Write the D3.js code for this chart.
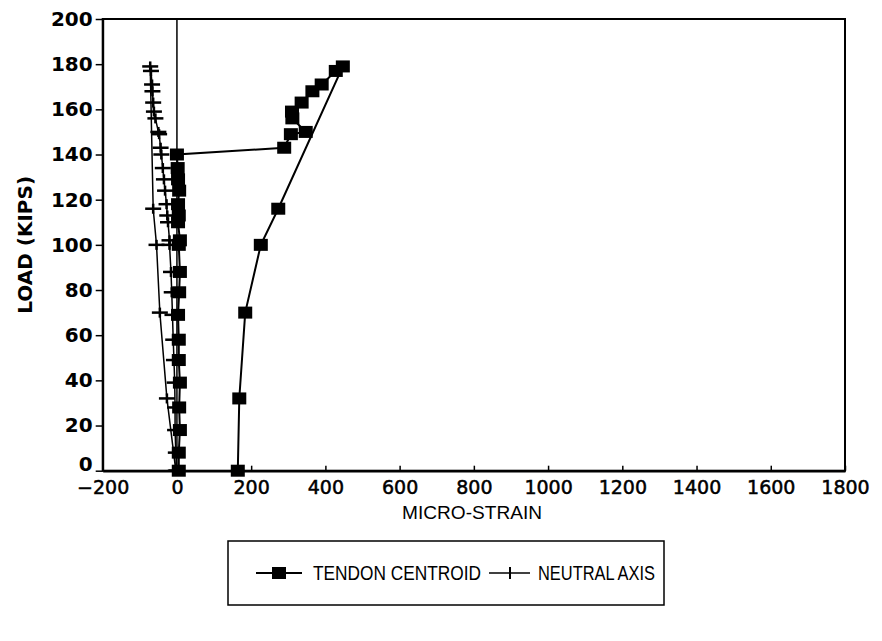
<!DOCTYPE html>
<html>
<head>
<meta charset="utf-8">
<script src="https://cdnjs.cloudflare.com/ajax/libs/d3/7.8.5/d3.min.js"></script>
<style>
  body { margin: 0; background: #fff; }
  svg { display: block; }
  .tick text { fill: #000; }
</style>
</head>
<body>
<div id="chart"></div>
<script>
// x ticks / y ticks
var xTicks = [-200, 0, 200, 400, 600, 800, 1000, 1200, 1400, 1600, 1800];
var yTicks = [0, 20, 40, 60, 80, 100, 120, 140, 160, 180, 200];

// TENDON CENTROID: load (kips) and micro-strain, loading then unloading
var tendonLoad = [0, 8, 18, 28, 39, 49, 58, 69, 79, 88, 100, 102, 110, 113, 118, 124, 129, 134, 140,
                  143, 149, 150, 156, 159, 163, 168, 171, 177, 179,
                  116, 100, 70, 32, 0];
var tendonStrain = [5, 5, 8, 6, 8, 5, 5, 3, 6, 8, 5, 8, 3, 5, 3, 6, 3, 2, 0,
                    289, 307, 347, 311, 310, 336, 365, 390, 428, 447,
                    273, 226, 184, 168, 164];

// NEUTRAL AXIS
var neutralLoad = [0, 8, 18, 28, 39, 49, 58, 69, 79, 88, 100, 102, 110, 113, 118, 124, 129, 134, 140,
                   143, 149, 150, 156, 159, 163, 168, 171, 177, 179,
                   116, 100, 70, 32, 0];
var neutralStrain = [0, -3, -5, -5, -6, -8, -10, -12, -14, -16, -20, -20, -24, -26, -28, -32, -35, -38, -42,
                     -44, -48, -50, -58, -62, -64, -66, -67, -70, -72,
                     -64, -55, -46, -27, -3];

var svgWidth = 882;
var svgHeight = 641;

var svg = d3.select("#chart")
    .append("svg")
    .attr("width", svgWidth)
    .attr("height", svgHeight);

var xScale = d3.scaleLinear().domain([-200, 1800]).range([102.7, 845]);
var yScale = d3.scaleLinear().domain([0, 200]).range([470.7, 19]);

var tendon = tendonLoad.map((l, i) => ({load: l, strain: tendonStrain[i]}));
var neutral = neutralLoad.map((l, i) => ({load: l, strain: neutralStrain[i]}));

var narrow = "'Liberation Sans', Arial, sans-serif";

// frame
svg.append("rect")
    .attr("x", xScale(-200))
    .attr("y", yScale(200))
    .attr("width", xScale(1800) - xScale(-200))
    .attr("height", yScale(0) - yScale(200))
    .attr("fill", "none")
    .attr("stroke", "#000")
    .attr("stroke-width", 2);

// zero line
svg.append("line")
    .attr("x1", xScale(0)).attr("x2", xScale(0))
    .attr("y1", yScale(0)).attr("y2", yScale(200))
    .attr("stroke", "#000")
    .attr("stroke-width", 1.5);

// axes
var xAxis = svg.append("g")
    .attr("transform", `translate(0, ${yScale(0)})`)
    .call(d3.axisBottom(xScale).tickValues(xTicks).tickSizeInner(-5).tickSizeOuter(0).tickPadding(10));
xAxis.select(".domain").attr("stroke-width", 2.5);
xAxis.selectAll("line").attr("stroke-width", 1.5);
xAxis.selectAll("text")
    .attr("font-family", "DejaVu Sans, sans-serif")
    .attr("font-size", "19px")
    .attr("stroke", "#000")
    .attr("stroke-width", 0.5)
    .text(d => d < 0 ? "\u2212" + Math.abs(d) : d);

var yAxis = svg.append("g")
    .attr("transform", `translate(${xScale(-200)}, 0)`)
    .call(d3.axisLeft(yScale).tickValues(yTicks).tickSizeInner(7).tickSizeOuter(0).tickPadding(3));
yAxis.select(".domain").attr("stroke-width", 2);
yAxis.selectAll("line").attr("stroke-width", 1.5);
yAxis.selectAll("text")
    .attr("font-family", "DejaVu Sans, sans-serif")
    .attr("font-weight", "bold")
    .attr("font-size", "20px")
    .attr("dy", d => d === 0 ? "0em" : "0.32em");

// axis labels
svg.append("text")
    .attr("transform", `translate(25, ${yScale(100)}) rotate(-90)`)
    .attr("text-anchor", "middle")
    .attr("dy", "0.35em")
    .attr("font-family", "DejaVu Sans, sans-serif")
    .attr("font-weight", "bold")
    .attr("font-size", "20px")
    .text("LOAD (KIPS)");

svg.append("text")
    .attr("x", 472)
    .attr("y", 519)
    .attr("text-anchor", "middle")
    .attr("font-family", narrow)
    .attr("font-size", "19px")
    .attr("textLength", 140)
    .attr("lengthAdjust", "spacingAndGlyphs")
    .text("MICRO-STRAIN");

var line = d3.line().x(d => xScale(d.strain)).y(d => yScale(d.load));

svg.append("path")
    .datum(neutral)
    .attr("d", line)
    .attr("fill", "none")
    .attr("stroke", "#000")
    .attr("stroke-width", 1.5);

svg.append("path")
    .datum(tendon)
    .attr("d", line)
    .attr("fill", "none")
    .attr("stroke", "#000")
    .attr("stroke-width", 2);

// neutral axis markers (+)
var plus = svg.append("g").selectAll("g")
    .data(neutral)
    .enter()
    .append("g")
    .attr("transform", d => `translate(${xScale(d.strain)}, ${yScale(d.load)})`);
plus.append("line").attr("x1", -8).attr("x2", 8).attr("stroke", "#000").attr("stroke-width", 2.5);
plus.append("line").attr("y1", -5).attr("y2", 5).attr("stroke", "#000").attr("stroke-width", 2.5);

// tendon markers (squares)
svg.append("g").selectAll("rect")
    .data(tendon)
    .enter()
    .append("rect")
    .attr("x", d => xScale(d.strain) - 7)
    .attr("y", d => yScale(d.load) - 6)
    .attr("width", 14)
    .attr("height", 12)
    .attr("fill", "#000");

// legend
var legend = svg.append("g");
legend.append("rect")
    .attr("x", 228).attr("y", 541)
    .attr("width", 436).attr("height", 64)
    .attr("fill", "none")
    .attr("stroke", "#000")
    .attr("stroke-width", 1.5);
legend.append("line").attr("x1", 256).attr("x2", 302).attr("y1", 573).attr("y2", 573)
    .attr("stroke", "#000").attr("stroke-width", 2);
legend.append("rect").attr("x", 272).attr("y", 567).attr("width", 14).attr("height", 12).attr("fill", "#000");
legend.append("text")
    .attr("x", 313).attr("y", 573).attr("dy", "0.35em")
    .attr("font-family", narrow)
    .attr("font-size", "20px")
    .attr("textLength", 168)
    .attr("lengthAdjust", "spacingAndGlyphs")
    .text("TENDON CENTROID");
legend.append("line").attr("x1", 489).attr("x2", 530).attr("y1", 573).attr("y2", 573)
    .attr("stroke", "#000").attr("stroke-width", 1.5);
legend.append("line").attr("x1", 510).attr("x2", 510).attr("y1", 567).attr("y2", 579)
    .attr("stroke", "#000").attr("stroke-width", 2);
legend.append("text")
    .attr("x", 538).attr("y", 573).attr("dy", "0.35em")
    .attr("font-family", narrow)
    .attr("font-size", "20px")
    .attr("textLength", 117)
    .attr("lengthAdjust", "spacingAndGlyphs")
    .text("NEUTRAL AXIS");
</script>
</body>
</html>
